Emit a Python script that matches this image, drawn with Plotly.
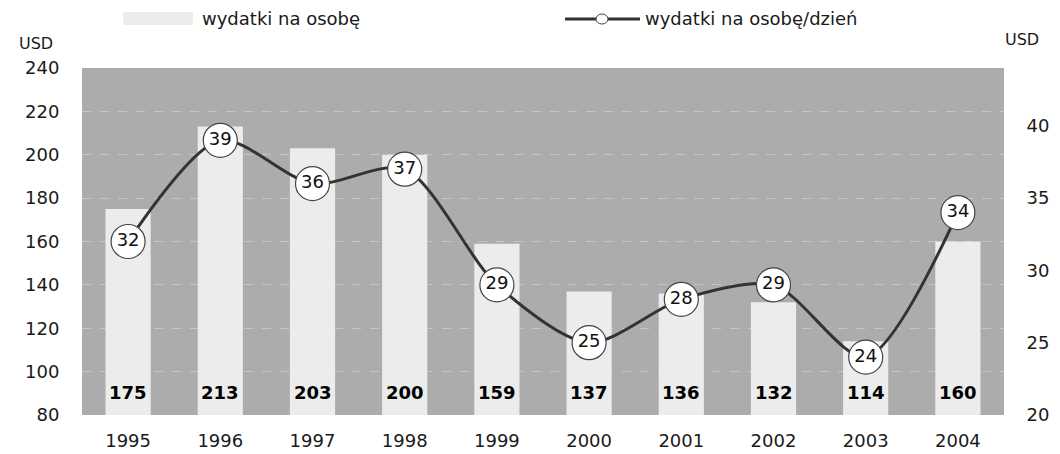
import plotly.graph_objects as go

years = [1995, 1996, 1997, 1998, 1999, 2000, 2001, 2002, 2003, 2004]
per_person = [175, 213, 203, 200, 159, 137, 136, 132, 114, 160]
per_person_day = [32, 39, 36, 37, 29, 25, 28, 29, 24, 34]
left_ticks = [80, 100, 120, 140, 160, 180, 200, 220, 240]
right_ticks = [20, 25, 30, 35, 40]

LEFT_RANGE = [80, 240]
RIGHT_RANGE = [20, 44]
X_RANGE = [years[0] - 0.5, years[-1] + 0.5]
FONT = "DejaVu Sans"
TXT = "#1a1a1a"

fig = go.Figure()

fig.add_trace(go.Bar(
    x=years, y=per_person, name="wydatki na osobę",
    marker=dict(color="#ececec", line=dict(width=0)),
    width=0.49, yaxis="y", showlegend=False, hoverinfo="x+y",
))

fig.add_trace(go.Scatter(
    x=years, y=per_person_day, name="wydatki na osobę/dzień",
    mode="lines+markers+text", yaxis="y2",
    line=dict(color="#333333", width=3, shape="spline", smoothing=0.8),
    marker=dict(size=34, color="white", line=dict(color="#444444", width=1.2)),
    text=[str(v) for v in per_person_day], textposition="middle center",
    textfont=dict(family=FONT, size=18, color="#111111"),
    showlegend=False, cliponaxis=False,
))

annotations = []
for yr, v in zip(years, per_person):
    annotations.append(dict(
        x=yr, y=LEFT_RANGE[0], xref="x", yref="y", yshift=23,
        text=f"<b>{v}</b>", showarrow=False,
        font=dict(family=FONT, size=18, color="#000000"),
    ))

# legend (drawn manually)
annotations += [
    dict(x=0.128, y=1.144, xref="paper", yref="paper", xanchor="left", yanchor="middle",
         text="wydatki na osobę", showarrow=False, font=dict(family=FONT, size=18, color=TXT)),
    dict(x=0.6085, y=1.144, xref="paper", yref="paper", xanchor="left", yanchor="middle",
         text="wydatki na osobę/dzień", showarrow=False, font=dict(family=FONT, size=18, color=TXT)),
    dict(x=-0.05, y=1.072, xref="paper", yref="paper", xanchor="center", yanchor="middle",
         text="USD", showarrow=False, font=dict(family=FONT, size=16, color=TXT)),
    dict(x=1.0195, y=1.081, xref="paper", yref="paper", xanchor="center", yanchor="middle",
         text="USD", showarrow=False, font=dict(family=FONT, size=16, color=TXT)),
]

shapes = [
    dict(type="rect", xref="paper", yref="paper", x0=0.0445, x1=0.1204, y0=1.1239, y1=1.1614,
         fillcolor="#ececec", line=dict(width=0)),
    dict(type="line", xref="paper", yref="paper", x0=0.5239, x1=0.6052, y0=1.1412, y1=1.1412,
         line=dict(color="#333333", width=3)),
    dict(type="circle", xref="paper", yref="paper", xsizemode="pixel", ysizemode="pixel",
         xanchor=0.564, yanchor=1.1412, x0=-6, x1=6, y0=-5, y1=5,
         fillcolor="white", line=dict(color="#444444", width=1)),
]

fig.update_layout(
    width=1060, height=454,
    margin=dict(l=82, r=56, t=68, b=39),
    paper_bgcolor="white", plot_bgcolor="#acacac",
    font=dict(family=FONT, size=18, color=TXT),
    xaxis=dict(
        range=X_RANGE, tickvals=years, showgrid=False, zeroline=False, showline=False,
        ticks="outside", ticklen=9, tickcolor="rgba(0,0,0,0)", automargin=False,
        tickfont=dict(family=FONT, size=18, color=TXT),
    ),
    yaxis=dict(
        range=LEFT_RANGE, tickvals=left_ticks, showgrid=True, automargin=False,
        gridcolor="#c6c6c6", griddash="dash", gridwidth=1, zeroline=False,
        showline=False, ticks="outside", ticklen=18, tickcolor="rgba(0,0,0,0)",
        tickfont=dict(family=FONT, size=18, color=TXT),
    ),
    yaxis2=dict(
        range=RIGHT_RANGE, tickvals=right_ticks, overlaying="y", side="right",
        showgrid=False, zeroline=False, showline=False, automargin=False,
        ticks="outside", ticklen=18, tickcolor="rgba(0,0,0,0)",
        tickfont=dict(family=FONT, size=18, color=TXT),
    ),
    annotations=annotations, shapes=shapes,
)

fig.write_html(
    "out.html",
    config={"displayModeBar": False},
    post_script="document.body.style.margin='0';document.body.style.overflow='hidden';",
)
